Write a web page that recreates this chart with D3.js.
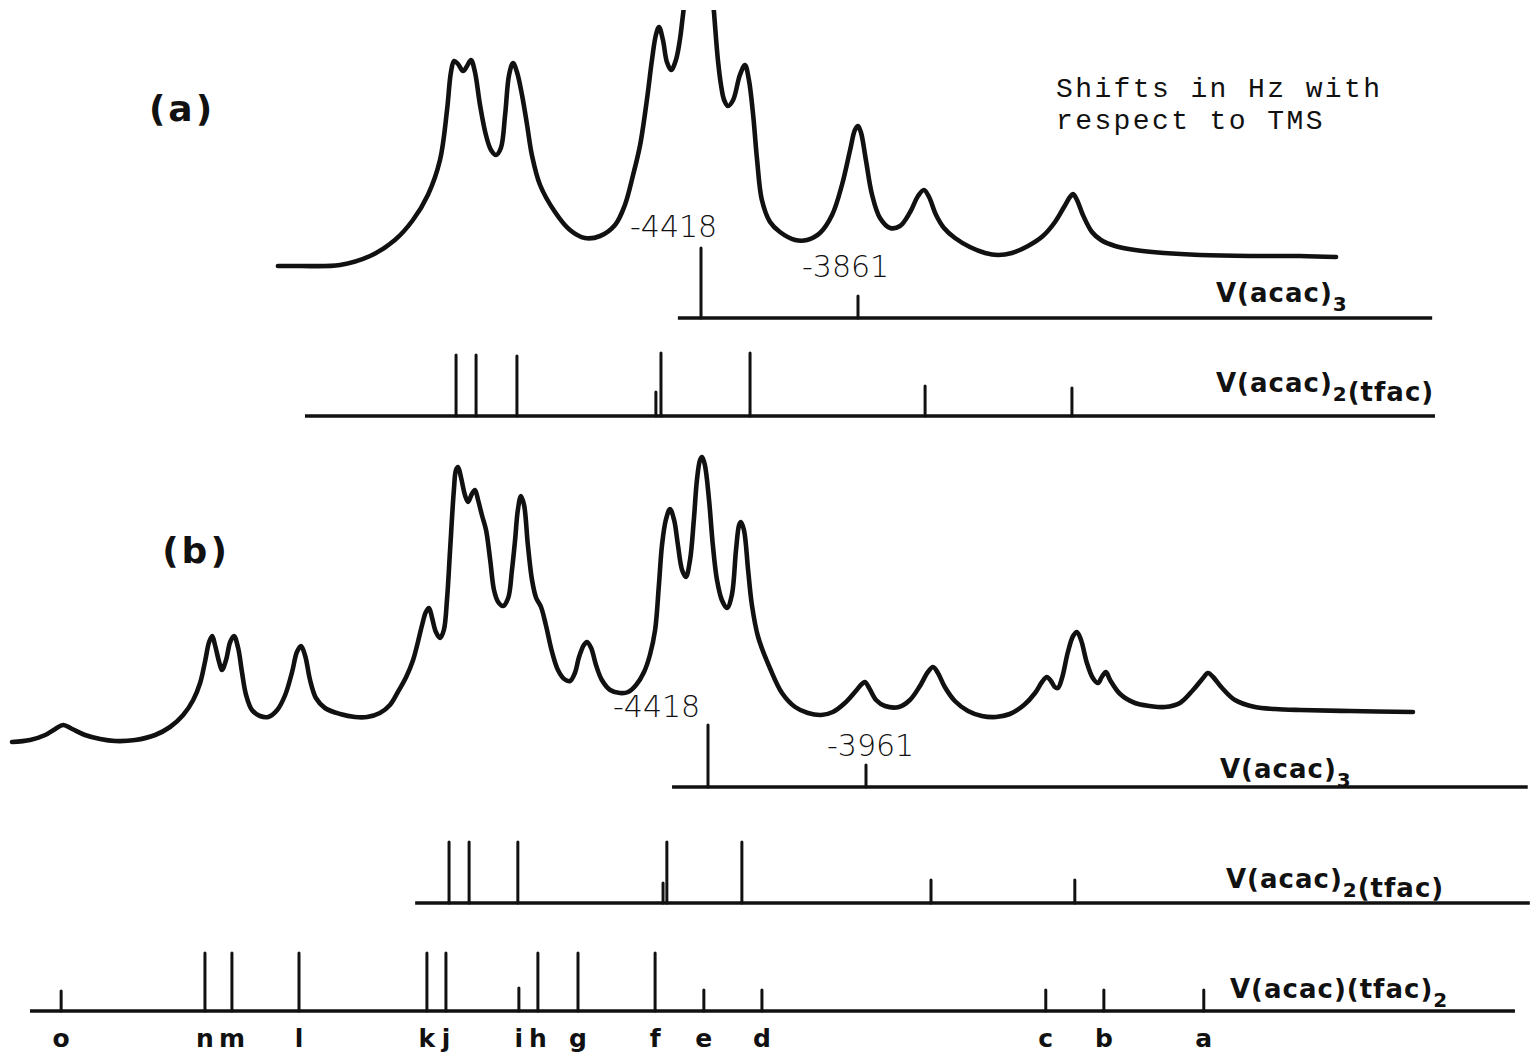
<!DOCTYPE html>
<meta charset="utf-8">
<script src="https://d3js.org/d3.v7.min.js"></script>
<style>
  body { margin: 0; background: #fff; }
</style>
<div id="chart"></div>
<script>
  // ---- spectrum (a): shift in Hz vs TMS, intensity (arbitrary units) ----
  var specA_hz = [-5919,-5841,-5699,-5592,-5504,-5440,-5387,-5344,-5319,-5305,
    -5294,-5280,-5262,-5248,-5234,-5220,-5202,-5181,-5163,-5145,
    -5128,-5113,-5099,-5085,-5071,-5053,-5035,-5018,-4989,-4936,
    -4883,-4830,-4776,-4723,-4688,-4659,-4634,-4610,-4592,-4578,
    -4567,-4553,-4539,-4524,-4507,-4493,-4482,-4450,-4422,-4393,
    -4372,-4358,-4347,-4336,-4322,-4304,-4280,-4262,-4248,-4233,
    -4219,-4202,-4173,-4138,-4084,-4042,-3996,-3953,-3918,-3889,
    -3872,-3861,-3850,-3833,-3811,-3783,-3747,-3712,-3676,-3648,
    -3627,-3609,-3584,-3556,-3517,-3464,-3410,-3364,-3315,-3258,
    -3205,-3162,-3130,-3109,-3098,-3084,-3063,-3031,-2999,-2949,
    -2878,-2775,-2648,-2470,-2293,-2165];
  var specA_int = [4,4,5,14,30,50,75,110,160,198,
    209,206,199,204,210,198,165,135,120,115,
    122,155,195,207,198,175,145,115,85,58,
    40,32,34,45,65,95,125,170,210,235,
    243,230,208,200,210,230,255,330,390,330,
    258,210,185,170,164,170,195,205,190,155,
    110,70,48,38,30,30,37,55,85,120,
    140,144,137,110,75,52,42,44,58,74,
    80,73,55,42,32,23,17,15,17,24,
    34,48,63,73,76,70,55,38,30,24,
    20,17,15,14,14,13];

  // ---- spectrum (b) ----
  var specB_hz = [-6431,-6379,-6335,-6306,-6283,-6257,-6220,-6176,-6133,-6075,
    -6017,-5974,-5936,-5907,-5887,-5873,-5861,-5852,-5844,-5832,
    -5824,-5812,-5800,-5789,-5777,-5766,-5754,-5737,-5714,-5690,
    -5664,-5641,-5621,-5607,-5595,-5583,-5569,-5552,-5526,-5482,
    -5439,-5404,-5367,-5338,-5315,-5291,-5271,-5257,-5245,-5234,
    -5225,-5216,-5205,-5193,-5182,-5173,-5164,-5153,-5147,-5141,
    -5132,-5121,-5112,-5101,-5092,-5083,-5072,-5060,-5048,-5037,
    -5025,-5011,-4996,-4985,-4976,-4968,-4959,-4950,-4939,-4927,
    -4915,-4901,-4887,-4869,-4852,-4834,-4817,-4803,-4791,-4777,
    -4768,-4756,-4742,-4725,-4701,-4673,-4649,-4626,-4603,-4586,
    -4571,-4560,-4551,-4540,-4528,-4516,-4505,-4493,-4482,-4470,
    -4459,-4450,-4441,-4435,-4427,-4415,-4404,-4392,-4378,-4363,
    -4349,-4337,-4328,-4323,-4314,-4302,-4291,-4273,-4239,-4204,
    -4166,-4129,-4091,-4057,-4022,-3993,-3973,-3964,-3952,-3932,
    -3906,-3866,-3834,-3805,-3782,-3767,-3753,-3733,-3704,-3666,
    -3626,-3585,-3545,-3504,-3472,-3452,-3438,-3426,-3415,-3406,
    -3394,-3377,-3362,-3351,-3339,-3322,-3305,-3290,-3279,-3267,
    -3255,-3226,-3183,-3140,-3096,-3053,-3015,-2986,-2972,-2957,
    -2931,-2894,-2836,-2778,-2706,-2561,-2379];
  var specB_int = [3,5,10,16,20,16,10,6,4,5,
    10,18,30,45,62,83,103,109,100,83,
    75,85,103,109,97,73,50,35,29,28,
    35,50,73,93,99,89,65,47,37,31,
    28,28,32,40,53,68,85,103,120,133,
    137,127,113,107,115,145,195,255,275,278,
    267,250,243,251,255,245,230,215,185,155,
    143,139,147,175,205,235,249,240,200,165,
    147,138,120,93,75,66,64,72,88,100,
    103,97,80,65,55,52,53,60,73,90,
    115,160,200,225,236,225,200,175,168,185,
    225,265,285,288,280,245,200,165,145,137,
    150,195,220,223,215,175,140,108,77,52,
    38,32,30,33,42,53,61,63,57,45,
    39,38,45,59,73,78,72,58,44,34,
    29,28,31,40,52,63,68,64,58,57,
    67,93,109,113,105,82,67,62,68,73,
    65,51,42,39,38,42,55,67,72,68,
    57,45,38,36,35,34,33];

  // ---- stick spectra: line positions (Hz) and relative heights ----
  var aAcac3_hz = [-4418, -3861];
  var aAcac3_h = [70, 22];
  var aAcac3_span = [-4500, -1824];

  var aTfac_hz = [-5287, -5216, -5071, -4578, -4560, -4244, -3623, -3102];
  var aTfac_h = [61, 61, 60, 24, 63, 63, 30, 28];
  var aTfac_span = [-5823, -1814];

  var bAcac3_hz = [-4418, -3961];
  var bAcac3_h = [62, 22];
  var bAcac3_span = [-4522, -2047];

  var bTfac_hz = [-5167, -5109, -4968, -4548, -4537, -4320, -3773, -3357];
  var bTfac_h = [61, 61, 61, 20, 61, 61, 23, 23];
  var bTfac_span = [-5265, -2041];

  var bTfac2_hz = [-6289, -5873, -5795, -5601, -5231, -5176, -4965, -4910, -4794, -4571, -4430, -4262, -3441, -3273, -2984];
  var bTfac2_h = [20, 58, 58, 58, 58, 58, 23, 58, 58, 58, 21, 21, 21, 21, 21];
  var bTfac2_lbl = ["o", "n", "m", "l", "k", "j", "i", "h", "g", "f", "e", "d", "c", "b", "a"];
  var bTfac2_span = [-6379, -2084];

  var width = 1540, height = 1058;
  var ink = "#111";
  var boldFont = "'DejaVu Sans', sans-serif";
  var thinFont = "'DejaVu Sans', sans-serif";

  var svg = d3.select("#chart")
    .append("svg")
    .attr("width", width)
    .attr("height", height);

  // frequency scales (the two traces were recorded at different sweep widths)
  var xa = d3.scaleLinear().domain([-4418, -3861]).range([701, 858]);
  var xb = d3.scaleLinear().domain([-4418, -3961]).range([708, 866]);

  // intensity scales for the two traces
  var ya = d3.scaleLinear().domain([0, 300]).range([270, -30]);
  var yb = d3.scaleLinear().domain([0, 300]).range([745, 445]);

  // stick height scale
  var stickH = d3.scaleLinear().domain([0, 100]).range([0, 100]);

  // the (a) trace runs off the top of the paper at its biggest peak
  svg.append("clipPath").attr("id", "paper")
    .append("rect").attr("x", 0).attr("y", 10).attr("width", width).attr("height", height);

  function drawTrace(hz, inten, x, y) {
    var pts = hz.map(function (d, i) { return [d, inten[i]]; });
    var line = d3.line()
      .x(function (d) { return x(d[0]); })
      .y(function (d) { return y(d[1]); })
      .curve(d3.curveCatmullRom.alpha(0.5));
    svg.append("path")
      .datum(pts)
      .attr("clip-path", "url(#paper)")
      .attr("d", line)
      .attr("fill", "none")
      .attr("stroke", ink)
      .attr("stroke-width", 4.6)
      .attr("stroke-linejoin", "round")
      .attr("stroke-linecap", "round");
  }

  drawTrace(specA_hz, specA_int, xa, ya);
  drawTrace(specB_hz, specB_int, xb, yb);

  function drawSticks(hz, h, span, x, y0) {
    var g = svg.append("g");
    g.append("line")
      .attr("x1", x(span[0])).attr("x2", x(span[1]))
      .attr("y1", y0).attr("y2", y0)
      .attr("stroke", ink).attr("stroke-width", 3.6);
    g.selectAll("line.stick")
      .data(hz)
      .enter()
      .append("line")
      .attr("class", "stick")
      .attr("x1", function (d) { return x(d); })
      .attr("x2", function (d) { return x(d); })
      .attr("y1", y0)
      .attr("y2", function (d, i) { return y0 - stickH(h[i]); })
      .attr("stroke", ink)
      .attr("stroke-width", 3)
      .attr("stroke-linecap", "round");
    return g;
  }

  drawSticks(aAcac3_hz, aAcac3_h, aAcac3_span, xa, 318);
  drawSticks(aTfac_hz, aTfac_h, aTfac_span, xa, 416);
  drawSticks(bAcac3_hz, bAcac3_h, bAcac3_span, xb, 787);
  drawSticks(bTfac_hz, bTfac_h, bTfac_span, xb, 903);
  drawSticks(bTfac2_hz, bTfac2_h, bTfac2_span, xb, 1011);

  // letters under the V(acac)(tfac)2 lines
  svg.selectAll("text.peak")
    .data(bTfac2_hz)
    .enter()
    .append("text")
    .attr("class", "peak")
    .attr("x", function (d) { return xb(d); })
    .attr("y", 1047)
    .attr("text-anchor", "middle")
    .style("font-family", boldFont)
    .style("font-weight", "bold")
    .style("font-size", "25px")
    .style("fill", ink)
    .text(function (d, i) { return bTfac2_lbl[i]; });

  // compound labels with subscripts
  function compound(x, y, parts) {
    var t = svg.append("text")
      .attr("x", x).attr("y", y)
      .style("font-family", boldFont)
      .style("font-weight", "bold")
      .style("font-size", "26px")
      .style("letter-spacing", "1px")
      .style("fill", ink);
    parts.forEach(function (p) {
      if (p.sub) {
        t.append("tspan").attr("dy", 9).style("font-size", "20px").text(p.sub);
        t.append("tspan").attr("dy", -9).text("");
      } else {
        t.append("tspan").text(p.txt);
      }
    });
  }

  compound(1216, 302, [{txt: "V(acac)"}, {sub: "3"}]);
  compound(1216, 392, [{txt: "V(acac)"}, {sub: "2"}, {txt: "(tfac)"}]);
  compound(1220, 778, [{txt: "V(acac)"}, {sub: "3"}]);
  compound(1226, 888, [{txt: "V(acac)"}, {sub: "2"}, {txt: "(tfac)"}]);
  compound(1230, 998, [{txt: "V(acac)(tfac)"}, {sub: "2"}]);

  // panel letters
  svg.append("text").attr("x", 182).attr("y", 121).attr("text-anchor", "middle")
    .style("font-family", boldFont).style("font-weight", "bold")
    .style("font-size", "36px").style("letter-spacing", "3px").style("fill", ink)
    .text("(a)");
  svg.append("text").attr("x", 196).attr("y", 563).attr("text-anchor", "middle")
    .style("font-family", boldFont).style("font-weight", "bold")
    .style("font-size", "36px").style("letter-spacing", "3px").style("fill", ink)
    .text("(b)");

  // shift values of the V(acac)3 reference lines
  function shiftLabel(x, y, s) {
    svg.append("text").attr("x", x).attr("y", y)
      .style("font-family", thinFont)
      .style("font-weight", "200")
      .style("font-size", "30px")
      .style("fill", ink)
      .text(s);
  }
  shiftLabel(630, 237, "-4418");
  shiftLabel(802, 277, "-3861");
  shiftLabel(613, 717, "-4418");
  shiftLabel(827, 756, "-3961");

  // note (typewritten)
  var noteStyle = function (t) {
    t.style("font-family", "'Liberation Mono', 'Courier New', monospace")
      .style("font-size", "28px")
      .style("letter-spacing", "2.4px")
      .style("fill", ink);
  };
  svg.append("text").attr("x", 1056).attr("y", 97).call(noteStyle).text("Shifts in Hz with");
  svg.append("text").attr("x", 1056).attr("y", 129).call(noteStyle).text("respect to TMS");
</script>
